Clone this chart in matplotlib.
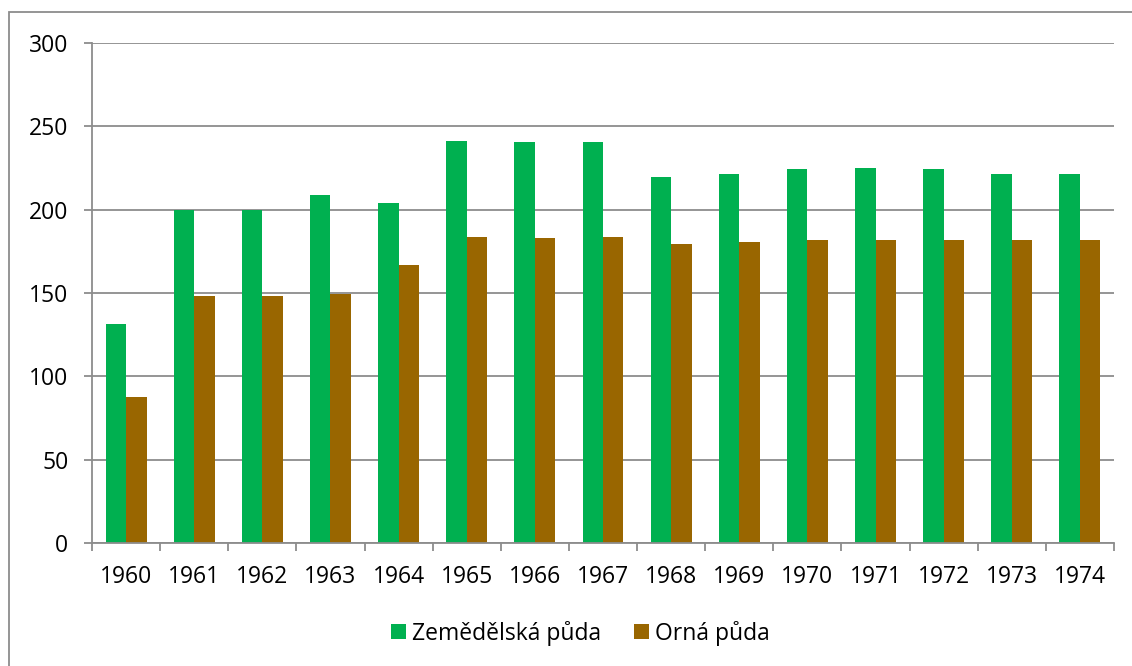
import numpy as np
import matplotlib.pyplot as plt
from matplotlib.patches import Rectangle

years = [str(y) for y in range(1960, 1975)]
zemedelska = [131.6, 199.6, 199.6, 209.0, 204.2, 241.4, 240.8, 240.4,
              219.4, 221.4, 224.6, 225.2, 224.2, 221.2, 221.2]
orna = [87.6, 148.2, 148.2, 149.6, 166.6, 183.4, 183.2, 183.4,
        179.6, 180.8, 182.0, 182.0, 182.0, 182.0, 182.0]

green = "#00b050"
brown = "#996600"
grey = "#8c8c8c"

plt.rcParams['font.family'] = ['Open Sans', 'DejaVu Sans']
fs = 16.5

fig = plt.figure(figsize=(11.32, 6.66), dpi=100)
ax = fig.add_axes([92 / 1132, 1 - 543 / 666, (1114 - 92) / 1132, (543 - 43) / 666])

x = np.arange(len(years))
w = 0.3
ax.bar(x - w / 2, zemedelska, w, color=green, label="Zemědělská půda")
ax.bar(x + w / 2, orna, w, color=brown, label="Orná půda")

ax.set_xlim(-0.5, len(years) - 0.5)
ax.set_ylim(0, 300)
ax.set_yticks(range(0, 301, 50))
ax.yaxis.grid(True, color=grey, linewidth=1.3)
ax.set_axisbelow(True)

ax.set_xticks(x)
ax.set_xticklabels(years)
ax.set_xticks(np.arange(-0.5, len(years), 1), minor=True)
ax.tick_params(axis='x', which='major', length=0, pad=16, labelsize=fs)
ax.tick_params(axis='x', which='minor', length=6, width=1.3, color=grey)
ax.tick_params(axis='y', length=6, width=1.3, color=grey, labelsize=fs, pad=11)

for s in ['top', 'right']:
    ax.spines[s].set_visible(False)
for s in ['left', 'bottom']:
    ax.spines[s].set_color(grey)
    ax.spines[s].set_linewidth(1.3)

fig.legend(loc='center', bbox_to_anchor=(580 / 1132, 1 - 633 / 666), ncol=2,
           frameon=False, fontsize=fs, handlelength=0.65, handleheight=0.65,
           handletextpad=0.26, columnspacing=1.44)

fig.patches.append(Rectangle((9 / 1132, -0.1), 1.2, 1 - 12 / 666 + 0.1,
                             transform=fig.transFigure, fill=False,
                             edgecolor=grey, linewidth=1.3))

fig.savefig("out.png", dpi=100)
